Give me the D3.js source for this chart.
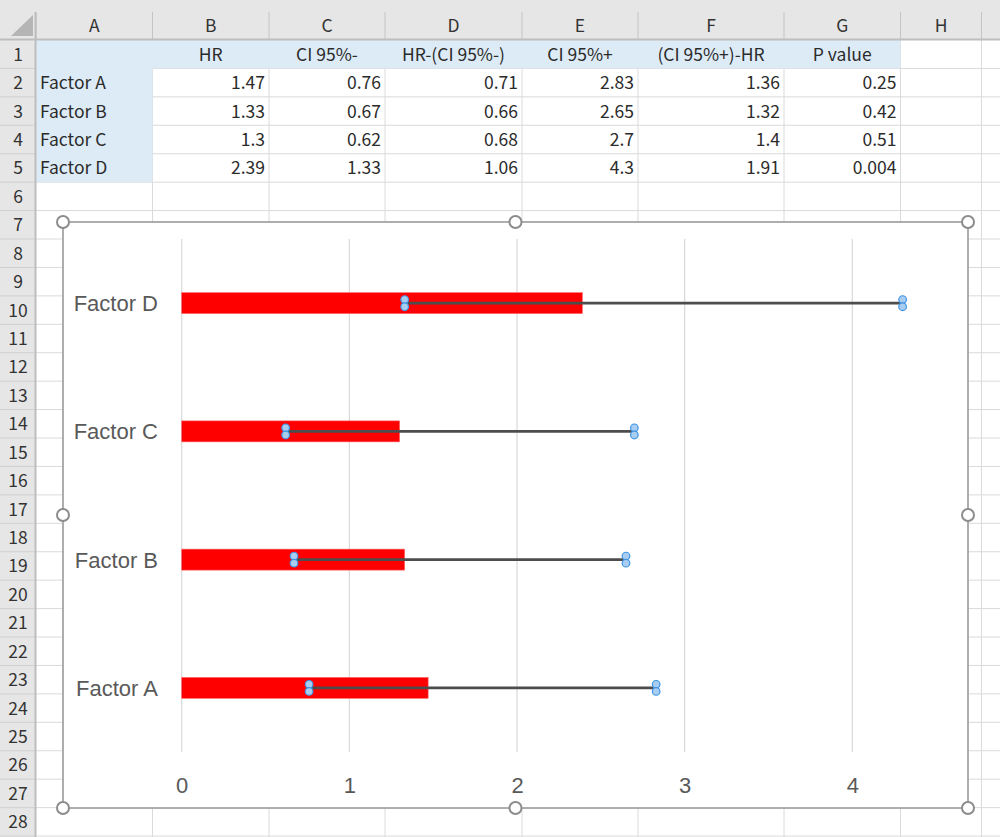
<!DOCTYPE html>
<html>
<head>
<meta charset="utf-8">
<script src="https://cdn.jsdelivr.net/npm/d3@7"></script>
<style>
  html, body { margin: 0; padding: 0; background: #ffffff; overflow: hidden; }
  svg { display: block; }
</style>
</head>
<body>
<script>
// ---------- data ----------
const categories = ["Factor A", "Factor B", "Factor C", "Factor D"];
const hr = [1.47, 1.33, 1.3, 2.39];
const ciLow = [0.76, 0.67, 0.62, 1.33];
const hrMinusLow = [0.71, 0.66, 0.68, 1.06];
const ciHigh = [2.83, 2.65, 2.7, 4.3];
const highMinusHr = [1.36, 1.32, 1.4, 1.91];
const pValue = ["0.25", "0.42", "0.51", "0.004"];
const headers = ["", "HR", "CI 95%-", "HR-(CI 95%-)", "CI 95%+", "(CI 95%+)-HR", "P value"];
const colLetters = ["A", "B", "C", "D", "E", "F", "G", "H"];
const xTicks = [0, 1, 2, 3, 4];

// ---------- layout ----------
const W = 1000, H = 837;
const colEdges = [36, 152.5, 269, 385, 522, 638, 784, 900.5, 981.5, 1000];
const headTop = 12, headBottom = 40, rowH = 28.43;
const nRows = 28;
const rowY = i => headBottom + i * rowH; // top of row i+1
const cellFont = "'Noto Sans CJK JP', 'Noto Sans', sans-serif";
const chartFont = "'Liberation Sans', Arial, sans-serif";

const svg = d3.select("body").append("svg").attr("width", W).attr("height", H);

// spreadsheet background
svg.append("rect").attr("x", 0).attr("y", 0).attr("width", W).attr("height", H).attr("fill", "#ffffff");

// cell gridlines
const grid = svg.append("g").attr("stroke", "#dadada").attr("stroke-width", 1);
colEdges.slice(1, -1).forEach(x => {
  grid.append("line").attr("x1", x).attr("x2", x).attr("y1", headBottom).attr("y2", H);
});
for (let i = 1; i <= nRows; i++) {
  grid.append("line").attr("x1", 36).attr("x2", W).attr("y1", rowY(i)).attr("y2", rowY(i));
}

// blue fills
const blue = "#ddebf7";
svg.append("rect").attr("x", colEdges[0]).attr("y", rowY(0)).attr("width", colEdges[7] - colEdges[0]).attr("height", rowH).attr("fill", blue);
svg.append("rect").attr("x", colEdges[0]).attr("y", rowY(0)).attr("width", colEdges[1] - colEdges[0]).attr("height", rowH * 5).attr("fill", blue);

// header areas
svg.append("rect").attr("x", 0).attr("y", 0).attr("width", W).attr("height", headBottom).attr("fill", "#e6e6e6");
svg.append("rect").attr("x", 0).attr("y", 0).attr("width", 36).attr("height", H).attr("fill", "#e6e6e6");
// corner triangle
svg.append("path").attr("d", "M11,36 L33,36 L33,15 Z").attr("fill", "#b5b5b5");

// column header separators & letters
colEdges.slice(0, -1).forEach((x, i) => {
  svg.append("line").attr("x1", x).attr("x2", x).attr("y1", headTop).attr("y2", headBottom)
    .attr("stroke", "#c4c4c4").attr("stroke-width", 1);
});
colLetters.forEach((c, i) => {
  svg.append("text").attr("x", (colEdges[i] + colEdges[i + 1]) / 2).attr("y", 32)
    .attr("text-anchor", "middle").attr("font-family", cellFont).attr("font-size", 17.5)
    .attr("fill", "#333").text(c);
});
svg.append("line").attr("x1", 0).attr("x2", W).attr("y1", headBottom - 0.5).attr("y2", headBottom - 0.5)
  .attr("stroke", "#bdbdbd").attr("stroke-width", 2);

// row header separators & numbers
for (let i = 1; i <= nRows; i++) {
  svg.append("line").attr("x1", 0).attr("x2", 36).attr("y1", rowY(i)).attr("y2", rowY(i))
    .attr("stroke", "#d0d0d0").attr("stroke-width", 1);
}
for (let i = 0; i < nRows; i++) {
  svg.append("text").attr("x", 18).attr("y", rowY(i) + rowH / 2 + 6.5)
    .attr("text-anchor", "middle").attr("font-family", cellFont).attr("font-size", 17.5)
    .attr("fill", "#333").text(i + 1);
}
svg.append("line").attr("x1", 35.5).attr("x2", 35.5).attr("y1", headTop).attr("y2", H)
  .attr("stroke", "#bdbdbd").attr("stroke-width", 2);

// table contents
const cellText = (col, row, txt, align) => {
  const x0 = colEdges[col], x1 = colEdges[col + 1];
  const x = align === "start" ? x0 + 4 : align === "middle" ? (x0 + x1) / 2 : x1 - 4;
  svg.append("text").attr("x", x).attr("y", rowY(row) + rowH / 2 + 6.5)
    .attr("text-anchor", align).attr("font-family", cellFont).attr("font-size", 17.5)
    .attr("fill", "#2b2b2b").text(txt);
};
headers.forEach((h, j) => { if (h) cellText(j, 0, h, "middle"); });
const columns = [hr, ciLow, hrMinusLow, ciHigh, highMinusHr];
categories.forEach((c, i) => {
  cellText(0, i + 1, c, "start");
  columns.forEach((arr, j) => cellText(j + 1, i + 1, String(arr[i]), "end"));
  cellText(6, i + 1, pValue[i], "end");
});

// ---------- chart ----------
const cx0 = 63, cy0 = 222, cx1 = 968, cy1 = 808;
svg.append("rect").attr("x", cx0).attr("y", cy0).attr("width", cx1 - cx0).attr("height", cy1 - cy0)
  .attr("fill", "#ffffff").attr("stroke", "#9a9a9a").attr("stroke-width", 1.6);

const plotTop = 239, plotBottom = 752;
const x = d3.scaleLinear().domain([0, 4.5]).range([181.7, 181.7 + 4.5 * 167.65]);
const pad = 1 - 21 / 128.25;
const y = d3.scaleBand().domain(categories.slice().reverse()).range([plotTop, plotBottom])
  .paddingInner(pad).paddingOuter(pad / 2);

const g = svg.append("g");
// gridlines
g.selectAll(".grid").data(xTicks).join("line")
  .attr("x1", d => x(d)).attr("x2", d => x(d))
  .attr("y1", plotTop).attr("y2", plotBottom)
  .attr("stroke", "#d9d9d9").attr("stroke-width", 1.2);

// axis labels via d3 axis
const xAxis = d3.axisBottom(x).tickValues(xTicks).tickSize(0).tickPadding(0).tickFormat(d3.format("d"));
const axG = g.append("g").attr("transform", `translate(0,${plotBottom})`).call(xAxis);
axG.select(".domain").remove();
axG.selectAll("text").attr("dy", null).attr("y", 41)
  .attr("font-family", chartFont).attr("font-size", 22).attr("fill", "#595959");

const yAxis = d3.axisLeft(y).tickSize(0).tickPadding(0);
const ayG = g.append("g").attr("transform", `translate(158,0)`).call(yAxis);
ayG.select(".domain").remove();
ayG.selectAll("text").attr("dy", null).attr("dominant-baseline", null)
  .attr("transform", "translate(0,8)")
  .attr("font-family", chartFont).attr("font-size", 22).attr("fill", "#595959");

// bars
const rows = categories.map((c, i) => ({ c, hr: hr[i], lo: ciLow[i], hi: ciHigh[i] }));
g.selectAll(".bar").data(rows).join("rect")
  .attr("x", x(0)).attr("y", d => y(d.c))
  .attr("width", d => x(d.hr) - x(0)).attr("height", y.bandwidth())
  .attr("fill", "#ff0000").attr("stroke", "#ff6b6b").attr("stroke-width", 0.6);

// CI lines
g.selectAll(".ci").data(rows).join("line")
  .attr("x1", d => x(d.lo)).attr("x2", d => x(d.hi))
  .attr("y1", d => y(d.c) + y.bandwidth() / 2).attr("y2", d => y(d.c) + y.bandwidth() / 2)
  .attr("stroke", "#4d4d4d").attr("stroke-width", 2.6);

// markers (double circles at each end)
const markers = [];
rows.forEach(d => {
  [d.lo, d.hi].forEach(v => {
    [-3.6, 3.6].forEach(off => markers.push({ v, c: d.c, off }));
  });
});
g.selectAll(".mk").data(markers).join("circle")
  .attr("cx", d => x(d.v)).attr("cy", d => y(d.c) + y.bandwidth() / 2 + d.off)
  .attr("r", 3.8)
  .attr("fill", "#a8cdf0").attr("stroke", "#3f95e6").attr("stroke-width", 1.2);

// selection handles
const mx = (cx0 + cx1) / 2, my = (cy0 + cy1) / 2;
const handles = [[cx0, cy0], [mx, cy0], [cx1, cy0], [cx0, my], [cx1, my], [cx0, cy1], [mx, cy1], [cx1, cy1]];
svg.selectAll(".handle").data(handles).join("circle")
  .attr("cx", d => d[0]).attr("cy", d => d[1]).attr("r", 6)
  .attr("fill", "#ffffff").attr("stroke", "#8c8c8c").attr("stroke-width", 2);
</script>
</body>
</html>
